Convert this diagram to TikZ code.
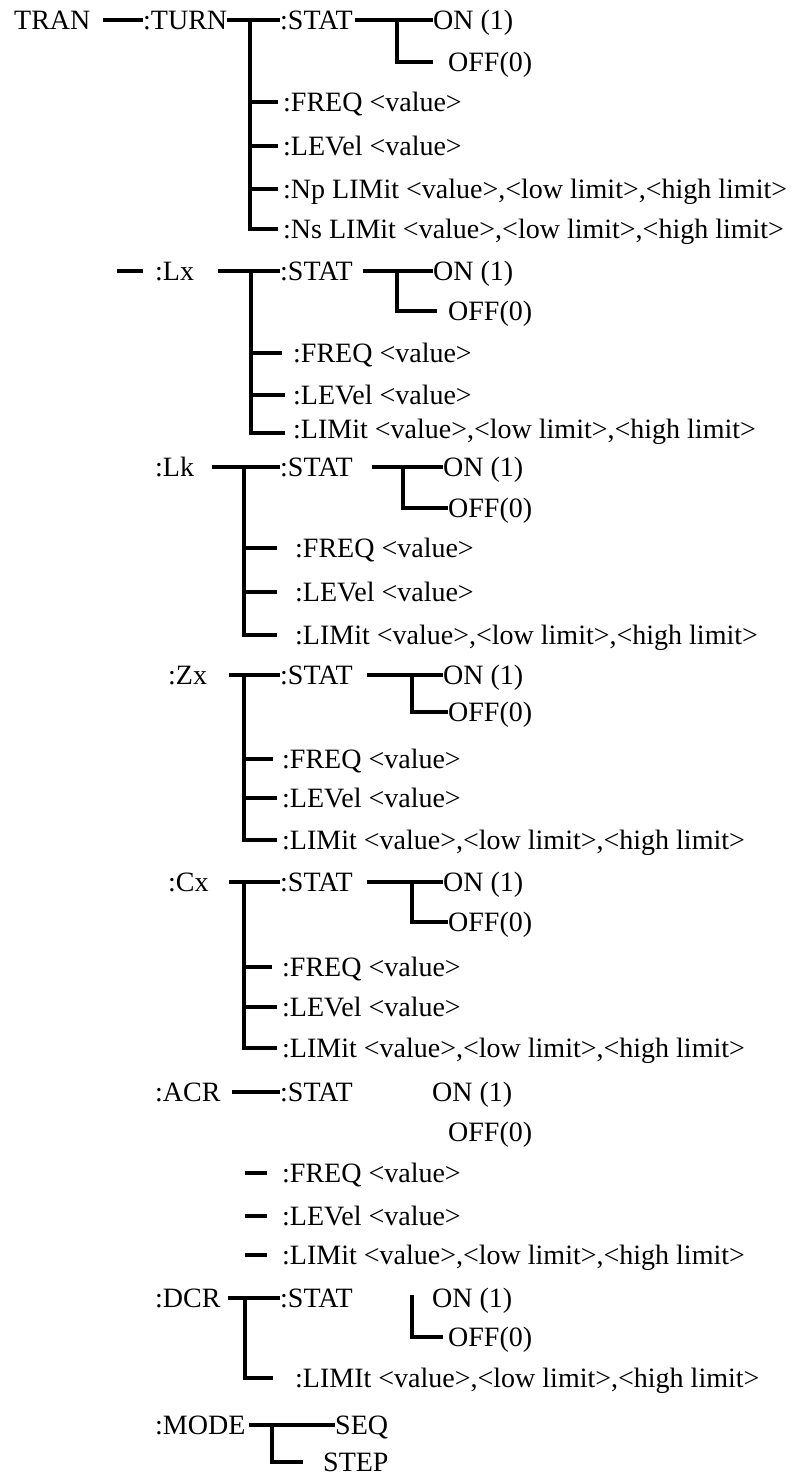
\documentclass[tikz,border=0pt]{standalone}
\usepackage{fontspec}
\setmainfont{Liberation Serif}
\begin{document}
\begin{tikzpicture}[x=1pt,y=-1pt,
  t/.style={anchor=west,inner sep=0pt,text height=18.3pt,text depth=0pt,font=\fontsize{28}{30}\selectfont},
  ln/.style={line width=3.1pt}]
\useasboundingbox (0,0) rectangle (796,1475);

% ---------- TURN ----------
\node[t] (tran) at (14,20) {TRAN};
\node[t] (turn) at (143,20) {:TURN};
\node[t] (tstat) at (280,20) {:STAT};
\node[t] (ton) at (433,20) {ON (1)};
\node[t] (toff) at (448,62) {OFF(0)};
\node[t] (tfreq) at (283,102) {:FREQ <value>};
\node[t] (tlev) at (283,146) {:LEVel <value>};
\node[t] (tnp) at (283,189) {:Np LIMit <value>,<low limit>,<high limit>};
\node[t] (tns) at (283,229) {:Ns LIMit <value>,<low limit>,<high limit>};
\coordinate (tb) at (250,20);
\coordinate (tsb) at (397,20);
\draw[ln] ([xshift=12pt]tran.east) -- (turn.west);
\draw[ln] (turn.east) -- (tstat.west);
\draw[ln] (tb) |- ([xshift=-5pt]tns.west);
\draw[ln] (tb |- tfreq.west) -- ([xshift=-5pt]tfreq.west);
\draw[ln] (tb |- tlev.west) -- ([xshift=-5pt]tlev.west);
\draw[ln] (tb |- tnp.west) -- ([xshift=-5pt]tnp.west);
\draw[ln] ([xshift=2pt]tstat.east) -- (ton.west);
\draw[ln] (tsb) |- ([xshift=-15pt]toff.west);

% ---------- Lx ----------
\node[t] (lx) at (155,271) {:Lx};
\node[t] (lstat) at (280,271) {:STAT};
\node[t] (lon) at (433,271) {ON (1)};
\node[t] (loff) at (448,311) {OFF(0)};
\node[t] (lfreq) at (293,353) {:FREQ <value>};
\node[t] (llev) at (293,395) {:LEVel <value>};
\node[t] (llim) at (293,429) {:LIMit <value>,<low limit>,<high limit>};
\coordinate (lxd) at (117,271);
\coordinate (lxa) at (218,271);
\coordinate (lb) at (251,271);
\coordinate (lsa) at (363,271);
\coordinate (lsb) at (397,271);
\draw[ln] (lxd) -- ([xshift=-12pt]lx.west);
\draw[ln] (lxa) -- (lstat.west);
\draw[ln] (lb) |- ([shift={(-8pt,-4pt)}]llim.west);
\draw[ln] (lb |- lfreq.west) -- ([xshift=-11pt]lfreq.west);
\draw[ln] (lb |- llev.west) -- ([xshift=-8pt]llev.west);
\draw[ln] (lsa) -- (lon.west);
\draw[ln] (lsb) |- ([xshift=-11pt]loff.west);

% ---------- Lk ----------
\node[t] (lk) at (155,467) {:Lk};
\node[t] (kstat) at (280,467) {:STAT};
\node[t] (kon) at (443,467) {ON (1)};
\node[t] (koff) at (448,508) {OFF(0)};
\node[t] (kfreq) at (295,548) {:FREQ <value>};
\node[t] (klev) at (295,592) {:LEVel <value>};
\node[t] (klim) at (295,635) {:LIMit <value>,<low limit>,<high limit>};
\coordinate (ka) at (212,467);
\coordinate (kb) at (244,467);
\coordinate (ksa) at (372,467);
\coordinate (ksb) at (403,467);
\draw[ln] (ka) -- (kstat.west);
\draw[ln] (kb) |- ([xshift=-18pt]klim.west);
\draw[ln] (kb |- kfreq.west) -- ([xshift=-18pt]kfreq.west);
\draw[ln] (kb |- klev.west) -- ([xshift=-18pt]klev.west);
\draw[ln] (ksa) -- (kon.west);
\draw[ln] (ksb) |- (koff.west);

% ---------- Zx ----------
\node[t] (zx) at (168,675) {:Zx};
\node[t] (zstat) at (280,675) {:STAT};
\node[t] (zon) at (443,675) {ON (1)};
\node[t] (zoff) at (448,712) {OFF(0)};
\node[t] (zfreq) at (282,759) {:FREQ <value>};
\node[t] (zlev) at (282,798) {:LEVel <value>};
\node[t] (zlim) at (282,840) {:LIMit <value>,<low limit>,<high limit>};
\coordinate (za) at (229,675);
\coordinate (zb) at (244,675);
\coordinate (zsa) at (367,675);
\coordinate (zsb) at (412,675);
\draw[ln] (za) -- (zstat.west);
\draw[ln] (zb) |- ([xshift=-5pt]zlim.west);
\draw[ln] (zb |- zfreq.west) -- ([xshift=-9pt]zfreq.west);
\draw[ln] (zb |- zlev.west) -- ([xshift=-5pt]zlev.west);
\draw[ln] (zsa) -- (zon.west);
\draw[ln] (zsb) |- (zoff.west);

% ---------- Cx ----------
\node[t] (cx) at (168,882) {:Cx};
\node[t] (cstat) at (280,882) {:STAT};
\node[t] (con) at (443,882) {ON (1)};
\node[t] (coff) at (448,922) {OFF(0)};
\node[t] (cfreq) at (282,967) {:FREQ <value>};
\node[t] (clev) at (282,1007) {:LEVel <value>};
\node[t] (clim) at (282,1048) {:LIMit <value>,<low limit>,<high limit>};
\coordinate (ca) at (229,882);
\coordinate (cb) at (244,882);
\coordinate (csa) at (367,882);
\coordinate (csb) at (412,882);
\draw[ln] (ca) -- (cstat.west);
\draw[ln] (cb) |- ([xshift=-5pt]clim.west);
\draw[ln] (cb |- cfreq.west) -- ([xshift=-10pt]cfreq.west);
\draw[ln] (cb |- clev.west) -- ([xshift=-5pt]clev.west);
\draw[ln] (csa) -- (con.west);
\draw[ln] (csb) |- (coff.west);

% ---------- ACR ----------
\node[t] (acr) at (155,1092) {:ACR};
\node[t] (astat) at (280,1092) {:STAT};
\node[t] (aon) at (432,1092) {ON (1)};
\node[t] (aoff) at (448,1132) {OFF(0)};
\node[t] (afreq) at (282,1173) {:FREQ <value>};
\node[t] (alev) at (282,1216) {:LEVel <value>};
\node[t] (alim) at (282,1255) {:LIMit <value>,<low limit>,<high limit>};
\coordinate (aa) at (232,1092);
\coordinate (ad) at (245,1173);
\draw[ln] (aa) -- (astat.west);
\draw[ln] (ad |- afreq.west) -- ([xshift=-15pt]afreq.west);
\draw[ln] (ad |- alev.west) -- ([xshift=-15pt]alev.west);
\draw[ln] (ad |- alim.west) -- ([xshift=-15pt]alim.west);

% ---------- DCR ----------
\node[t] (dcr) at (155,1298) {:DCR};
\node[t] (dstat) at (280,1298) {:STAT};
\node[t] (don) at (432,1298) {ON (1)};
\node[t] (doff) at (448,1337) {OFF(0)};
\node[t] (dlim) at (295,1378) {:LIMIt <value>,<low limit>,<high limit>};
\coordinate (da) at (228,1298);
\coordinate (db) at (245,1298);
\coordinate (dsb) at (412,1295);
\draw[ln] (da) -- (dstat.west);
\draw[ln] (db) |- ([xshift=-22pt]dlim.west);
\draw[ln] (dsb) |- ([xshift=-5pt]doff.west);

% ---------- MODE ----------
\node[t] (mode) at (155,1425) {:MODE};
\node[t] (seq) at (335,1425) {SEQ};
\node[t] (step) at (323,1462) {STEP};
\coordinate (mb) at (272,1425);
\draw[ln] ([xshift=3pt]mode.east) -- (seq.west);
\draw[ln] (mb) |- ([xshift=-20pt]step.west);
\end{tikzpicture}
\end{document}
